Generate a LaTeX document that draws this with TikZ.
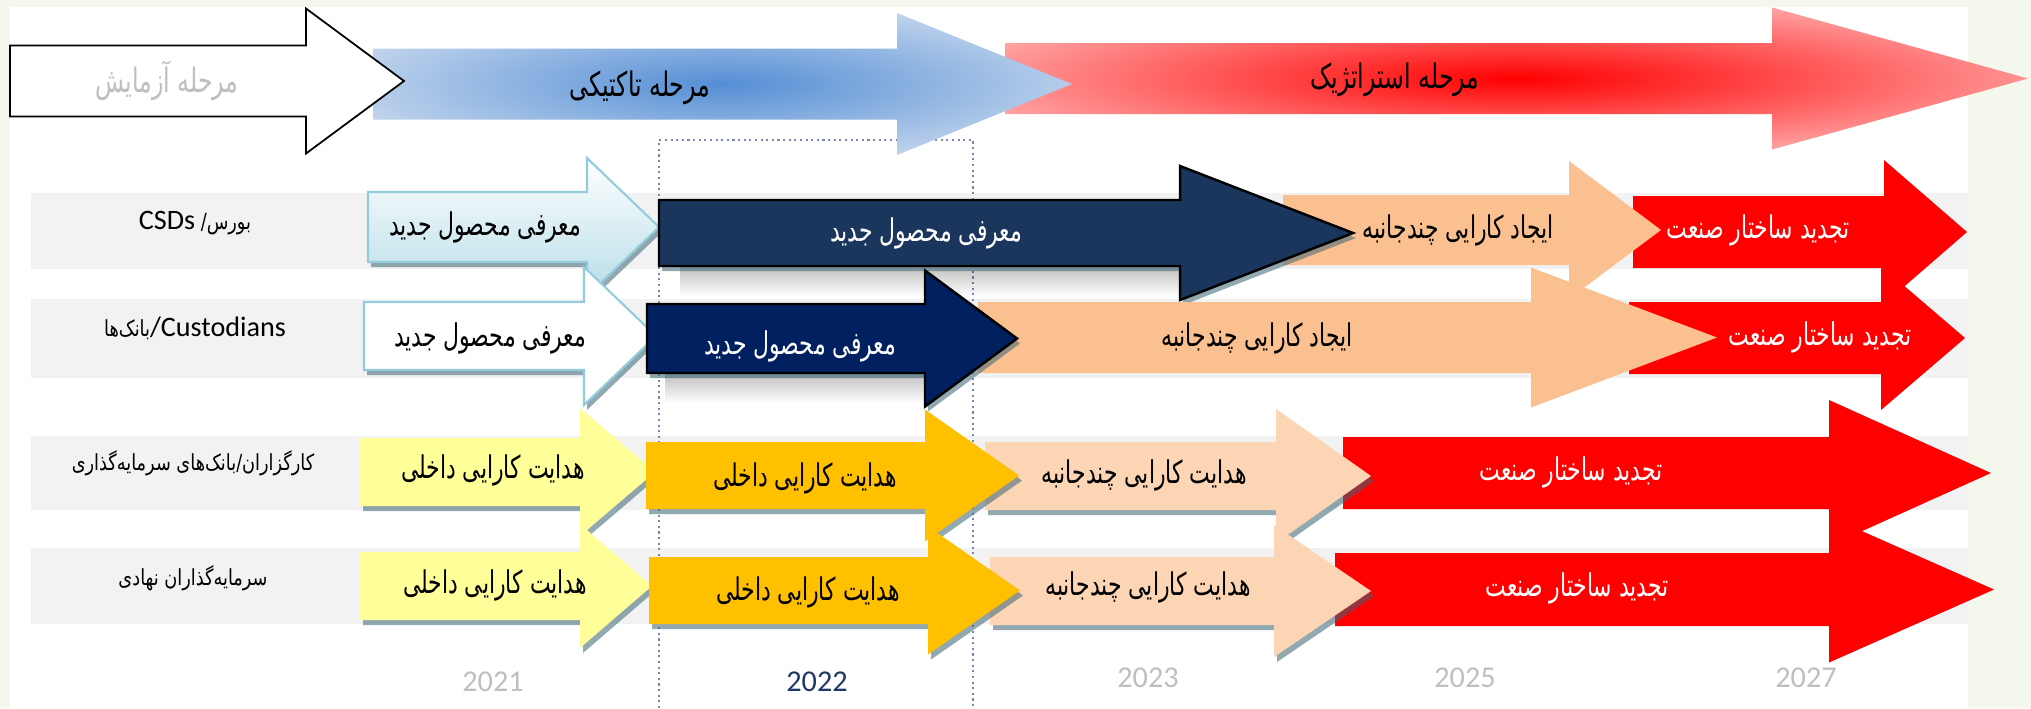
\documentclass[tikz,border=0pt]{standalone}
\usepackage{fontspec}
\usetikzlibrary{positioning,shadows,fadings}
\TeXXeTstate=1
\newfontfamily\arabicfont[Script=Arabic,FakeStretch=0.8]{DejaVu Sans}
\newfontfamily\narrowfont[Script=Arabic,FakeStretch=0.7]{DejaVu Sans}
\newfontfamily\latinfont{Carlito}

\definecolor{bgreen}{RGB}{243,247,236}
\definecolor{band}{RGB}{242,242,242}
\definecolor{lineblue}{RGB}{120,135,170}
\definecolor{tacdark}{RGB}{85,142,213}
\definecolor{taclight}{RGB}{220,230,242}
\definecolor{strlight}{RGB}{255,205,205}
\definecolor{lbline}{RGB}{147,205,221}
\definecolor{lbfill}{RGB}{183,221,232}
\definecolor{navyA}{RGB}{27,54,93}
\definecolor{navyB}{RGB}{0,32,96}
\definecolor{peach}{RGB}{250,192,144}
\definecolor{lightpeach}{RGB}{252,213,181}
\definecolor{lightyellow}{RGB}{255,255,153}
\definecolor{gold}{RGB}{255,192,0}
\definecolor{yeargray}{RGB}{191,191,191}
\definecolor{yearblue}{RGB}{31,56,100}
\definecolor{shadowblue}{RGB}{60,100,115}

\pgfdeclareradialshading{tacshade}{\pgfpoint{0bp}{0bp}}{color(0bp)=(tacdark); color(35bp)=(taclight); color(50bp)=(taclight)}
\pgfdeclareradialshading{strshade}{\pgfpoint{0bp}{0bp}}{color(0bp)=(red); color(35bp)=(strlight); color(50bp)=(strlight)}

% style, start, head start, tip, middle, half body, half head
\newcommand{\phasearrow}[7]{%
  \path[#1] (#2,#5-#6) -- (#3,#5-#6) -- (#3,#5-#7) -- (#4,#5)
    -- (#3,#5+#7) -- (#3,#5+#6) -- (#2,#5+#6) -- cycle;}

\begin{document}
\begin{tikzpicture}[x=0.01cm, y=-0.01cm,
  offshadow/.style={drop shadow={shadow xshift=0.03cm, shadow yshift=-0.05cm, fill=shadowblue, opacity=0.55}},
  softshadow/.style={fill=black, opacity=0.25, path fading=south},
  trialarrow/.style={fill=white, draw=black, line width=0.5pt},
  tacticarrow/.style={shade, shading=tacshade},
  strategyarrow/.style={shade, shading=strshade},
  newprodA/.style={top color=white, bottom color=lbfill, draw=lbline, line width=0.6pt, offshadow},
  newprodB/.style={fill=white, draw=lbline, line width=0.6pt, offshadow},
  navystepA/.style={fill=navyA, draw=black, line width=0.7pt, offshadow},
  navystepB/.style={fill=navyB, draw=black, line width=0.7pt, offshadow},
  peachstep/.style={fill=peach},
  redstep/.style={fill=red},
  yellowstep/.style={fill=lightyellow, offshadow},
  goldstep/.style={fill=gold, offshadow},
  lightpeachstep/.style={fill=lightpeach, offshadow},
  phase/.style={font=\narrowfont\fontsize{9.6}{11}\selectfont, inner sep=0pt},
  steptext/.style={font=\narrowfont\fontsize{8.9}{10}\selectfont, inner sep=0pt},
  whitetext/.style={steptext, text=white},
  rowlabel/.style={font=\arabicfont\fontsize{6.3}{7}\selectfont, inner sep=0pt},
  year/.style={font=\latinfont\fontsize{8.6}{10}\selectfont, text=yeargray, inner sep=0pt},
  tacbox/.style={draw=lineblue, densely dotted, line width=0.6pt}]

\useasboundingbox (0,0) rectangle (2031,708);
\fill[bgreen] (0,0) rectangle (2031,708);
\fill[white] (10,7) rectangle (1968,708);

\foreach \top/\bot in {193/269, 299/378, 436/510, 548/624}
  \fill[band] (31,\top) rectangle (1968,\bot);

\draw[tacbox] (659,708) -- (659,140) -- (973,140) -- (973,708);

% phases
\phasearrow{strategyarrow}{1005}{1772}{2028}{78.5}{35.5}{71}
\phasearrow{tacticarrow}{373}{897}{1072}{84}{35.5}{71}
\phasearrow{trialarrow}{10}{306}{404}{81}{35.5}{72.5}

\node[phase, text=yeargray] (trial) at (167,81) {\beginR مرحله آزمایش\endR};
\node[phase] (tactic) at (640,88) {\beginR مرحله تاکتیکی\endR};
\node[phase] (strategy) at (1395,80) {\beginR مرحله استراتژیک\endR};

% row 1
\phasearrow{redstep}{1633}{1884}{1967}{232}{36}{72}
\phasearrow{peachstep}{1283}{1569}{1661}{230}{35}{69}
\phasearrow{newprodA}{368}{587}{659}{227}{35}{69}
\fill[softshadow] (680,266) rectangle (1180,296);
\phasearrow{navystepA}{659}{1180}{1353}{233}{33}{67}

\node[rowlabel] (exch) at (195,223) {\beginR بورس/ \beginL{\latinfont\fontsize{8}{10}\selectfont CSDs}\endL\endR};
\node[steptext] (np1) at (485,227) {\beginR معرفی محصول جدید\endR};
\node[whitetext] (np1b) at (926,233) {\beginR معرفی محصول جدید\endR};
\node[steptext] (mc1) at (1458,230) {\beginR ایجاد کارایی چندجانبه\endR};
\node[whitetext] (rs1) at (1758,230) {\beginR تجدید ساختار صنعت\endR};

% row 2
\phasearrow{newprodB}{364}{584}{656}{336}{34}{69}
\phasearrow{redstep}{1629}{1881}{1965}{338}{36}{72}
\phasearrow{peachstep}{978}{1531}{1717}{337.5}{35.5}{70}
\fill[softshadow] (665,373) rectangle (925,403);
\phasearrow{navystepB}{647}{925}{1017}{338.5}{34.5}{68}

\node[rowlabel] (cust) at (195,328) {بانک^^^^200cها{\latinfont\fontsize{8}{10}\selectfont/Custodians}};
\node[steptext] (np2) at (490,338) {\beginR معرفی محصول جدید\endR};
\node[whitetext] (np2b) at (800,346) {\beginR معرفی محصول جدید\endR};
\node[steptext] (mc2) at (1257,338) {\beginR ایجاد کارایی چندجانبه\endR};
\node[whitetext] (rs2) at (1820,337) {\beginR تجدید ساختار صنعت\endR};

% row 3
\phasearrow{redstep}{1343}{1829}{1991}{473}{36}{73}
\phasearrow{lightpeachstep}{985}{1276}{1371}{476}{34}{67}
\phasearrow{yellowstep}{360}{580}{655}{472}{34}{64}
\phasearrow{goldstep}{646}{925}{1019}{475.5}{33.5}{66}

\node[rowlabel] (brok) at (193,463) {\beginR کارگزاران/بانک^^^^200cهای سرمایه^^^^200cگذاری\endR};
\node[steptext] (ie3) at (493,470) {\beginR هدایت کارایی داخلی\endR};
\node[steptext] (ie3b) at (805,478) {\beginR هدایت کارایی داخلی\endR};
\node[steptext] (me3) at (1144,475) {\beginR هدایت کارایی چندجانبه\endR};
\node[whitetext] (rs3) at (1571,472) {\beginR تجدید ساختار صنعت\endR};

% row 4
\phasearrow{redstep}{1335}{1829}{1994}{589.5}{36.5}{73}
\phasearrow{lightpeachstep}{990}{1274}{1371}{591}{34}{66}
\phasearrow{yellowstep}{360}{580}{652}{586}{34}{62}
\phasearrow{goldstep}{649}{928}{1020}{590.5}{33.5}{64}

\node[rowlabel] (inst) at (193,578) {\beginR سرمایه^^^^200cگذاران نهادی\endR};
\node[steptext] (ie4) at (495,585) {\beginR هدایت کارایی داخلی\endR};
\node[steptext] (ie4b) at (808,592) {\beginR هدایت کارایی داخلی\endR};
\node[steptext] (me4) at (1148,587) {\beginR هدایت کارایی چندجانبه\endR};
\node[whitetext] (rs4) at (1577,588) {\beginR تجدید ساختار صنعت\endR};

% years
\node[year] (y21) at (493,682) {2021};
\node[year, text=yearblue] (y22) at (817,682) {2022};
\node[year] (y23) at (1148,678) {2023};
\node[year] (y25) at (1465,678) {2025};
\node[year] (y27) at (1806,678) {2027};

\end{tikzpicture}
\end{document}
